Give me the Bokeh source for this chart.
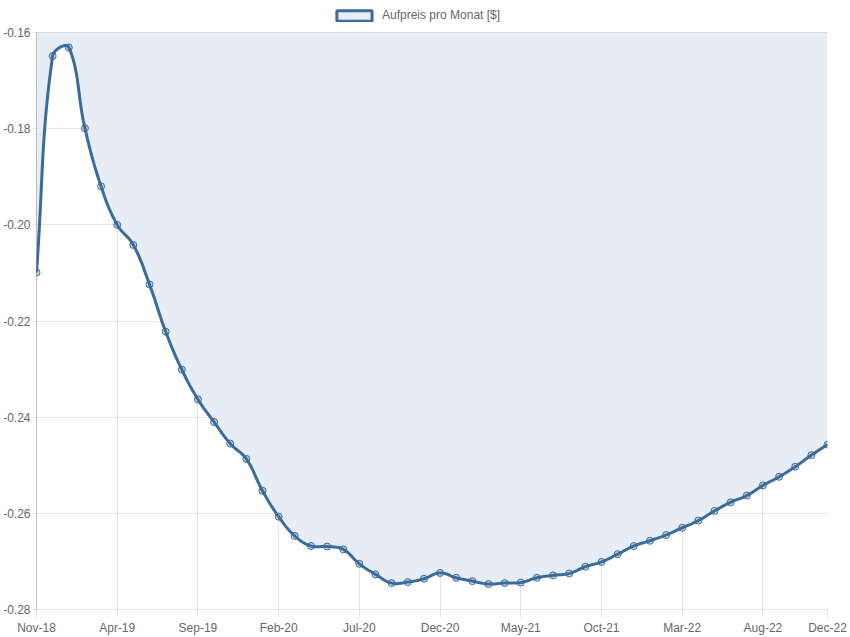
import numpy as np
import pandas as pd
from bokeh.plotting import figure
from bokeh.layouts import column
from bokeh.models import FixedTicker, Legend, LegendItem, Span
from bokeh.embed import file_html
from bokeh.resources import INLINE

# ---- data ----
months = list(pd.date_range("2018-11-01", periods=50, freq="MS").strftime("%b-%y"))
values = [
    -0.2099, -0.1649, -0.1631, -0.1799, -0.1920, -0.2000, -0.2042, -0.2124, -0.2222, -0.2301,
    -0.2363, -0.2410, -0.2455, -0.2487, -0.2553, -0.2607, -0.2647, -0.2668, -0.2669, -0.2675,
    -0.2705, -0.2727, -0.2745, -0.2743, -0.2736, -0.2724, -0.2734, -0.2741, -0.2747, -0.2745,
    -0.2744, -0.2734, -0.2729, -0.2725, -0.2711, -0.2701, -0.2685, -0.2668, -0.2657, -0.2645,
    -0.2630, -0.2615, -0.2595, -0.2577, -0.2563, -0.2542, -0.2524, -0.2503, -0.2479, -0.2457,
]
tick_idx = [0, 5, 10, 15, 20, 25, 30, 35, 40, 45, 49]
y_ticks = [-0.28, -0.26, -0.24, -0.22, -0.20, -0.18, -0.16]
series_name = "Aufpreis pro Monat [$]"

y_min, y_max = -0.28, -0.16
LINE = "#3a6b9b"
FILL = "#e8edf5"
GRID_ALPHA = 0.1
FONT = "Liberation Sans"

frame_w, frame_h = 791, 577

n = len(values)
x = np.arange(n, dtype=float)
y = np.array(values)

# Chart.js-style bezier spline (tension 0.4) computed in pixel space
sx = frame_w / (n - 1)
sy = frame_h / (y_max - y_min)
px = x * sx
py = (y_max - y) * sy
t = 0.4
cp_prev = np.zeros((n, 2))
cp_next = np.zeros((n, 2))
for i in range(n):
    p0 = np.array([px[max(i - 1, 0)], py[max(i - 1, 0)]])
    p1 = np.array([px[i], py[i]])
    p2 = np.array([px[min(i + 1, n - 1)], py[min(i + 1, n - 1)]])
    d01 = np.hypot(*(p1 - p0))
    d12 = np.hypot(*(p2 - p1))
    tot = d01 + d12
    s01 = d01 / tot if tot else 0
    s12 = d12 / tot if tot else 0
    fa, fb = t * s01, t * s12
    cp_prev[i] = p1 - fa * (p2 - p0)
    cp_next[i] = p1 + fb * (p2 - p0)
cp_prev[:, 1] = np.clip(cp_prev[:, 1], 0, frame_h)
cp_next[:, 1] = np.clip(cp_next[:, 1], 0, frame_h)

cx, cy = [], []
ts = np.linspace(0, 1, 25)
for i in range(n - 1):
    P0 = np.array([px[i], py[i]]); P3 = np.array([px[i + 1], py[i + 1]])
    P1 = cp_next[i]; P2 = cp_prev[i + 1]
    for k, tt in enumerate(ts):
        if i > 0 and k == 0:
            continue
        b = ((1 - tt) ** 3) * P0 + 3 * ((1 - tt) ** 2) * tt * P1 + 3 * (1 - tt) * tt * tt * P2 + (tt ** 3) * P3
        cx.append(b[0] / sx)
        cy.append(y_max - b[1] / sy)
cx = np.array(cx); cy = np.array(cy)

# ---- main chart ----
p = figure(frame_width=frame_w, frame_height=frame_h, output_backend="svg", toolbar_location=None,
           x_range=(0, n - 1), y_range=(y_min, y_max),
           min_border_left=0, min_border_right=20, min_border_top=8, min_border_bottom=26)
p.outline_line_color = None
p.background_fill_color = "white"

p.varea(x=cx, y1=cy, y2=y_max, fill_color=FILL, fill_alpha=1.0)
p.line(cx, cy, line_color=LINE, line_width=3)
p.scatter(x, y, size=7, marker="circle", line_color=LINE, line_width=1,
          fill_color=LINE, fill_alpha=0.25)

# top darker grid line (Chart.js zero-index line)
p.add_layout(Span(location=y_max, dimension="width", line_color="black", line_alpha=0.25, line_width=1))

p.xaxis.ticker = FixedTicker(ticks=tick_idx)
p.xaxis.major_label_overrides = {i: months[i] for i in tick_idx}
p.yaxis.ticker = FixedTicker(ticks=y_ticks)
p.yaxis.major_label_overrides = {v: f"{v:.2f}" for v in y_ticks}
for ax in (p.xaxis[0], p.yaxis[0]):
    ax.major_label_text_font = FONT
    ax.major_label_text_font_size = "12px"
    ax.major_label_text_color = "#666666"
    ax.major_tick_in = 0
    ax.major_tick_line_color = "black"
    ax.major_tick_line_alpha = GRID_ALPHA
    ax.minor_tick_line_color = None
p.xaxis.major_label_standoff = 3
p.xaxis.major_tick_out = 8
p.yaxis.major_label_standoff = 2
p.yaxis.major_tick_out = 4
p.xaxis.axis_line_color = "black"
p.xaxis.axis_line_alpha = GRID_ALPHA
p.yaxis.axis_line_color = "black"
p.yaxis.axis_line_alpha = 0.25

p.xgrid.ticker = FixedTicker(ticks=tick_idx)
p.ygrid.ticker = FixedTicker(ticks=y_ticks)
p.grid.grid_line_color = "black"
p.grid.grid_line_alpha = GRID_ALPHA

# ---- legend strip ----
lg = figure(width=848, height=24, output_backend="svg", toolbar_location=None,
            x_range=(0, 1), y_range=(0, 1), min_border=0)
lg.axis.visible = False
lg.grid.visible = False
lg.outline_line_color = None
swatch = lg.quad(left=[np.nan], right=[np.nan], top=[np.nan], bottom=[np.nan],
                 fill_color=FILL, line_color=LINE, line_width=3)
legend = Legend(items=[LegendItem(label=series_name, renderers=[swatch])],
                location=(296, 2), orientation="horizontal",
                glyph_width=44, glyph_height=13, label_text_font=FONT,
                label_text_font_size="12px", label_text_color="#666666",
                label_standoff=6, label_height=13, padding=1, margin=0, spacing=0,
                border_line_color=None, background_fill_alpha=0)
lg.add_layout(legend, "center")

layout = column(lg, p, spacing=0)
open("out.html", "w").write(file_html(layout, INLINE))
